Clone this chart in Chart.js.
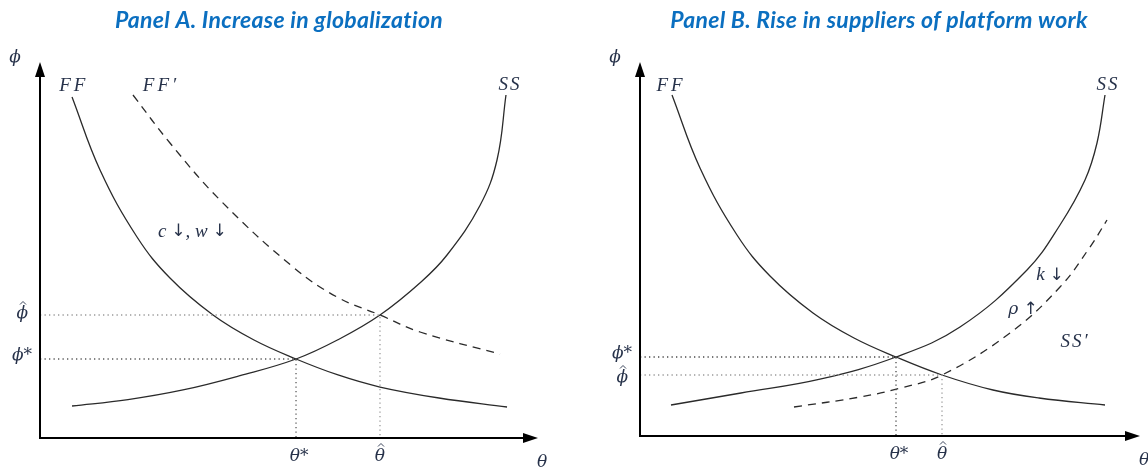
<!DOCTYPE html>
<html>
<head>
<meta charset="utf-8">
<script src="https://cdn.jsdelivr.net/npm/chart.js@4.4.1/dist/chart.umd.min.js"></script>
<style>
  body { margin: 0; background: #fff; width: 1148px; height: 468px; overflow: hidden; position: relative; }
  canvas { position: absolute; top: 0; }
  #panelA { left: 0; }
  #panelB { left: 574px; }
</style>
</head>
<body>
<canvas id="panelA" width="574" height="468"></canvas>
<canvas id="panelB" width="574" height="468"></canvas>
<script>
// ---- Panel A: increase in globalization ----
const titleA = 'Panel A. Increase in globalization';
const ffA_theta  = [6.43, 12.05, 19.48, 26.10, 34.74, 42.97, 51.41, 59.84, 68.27, 80.12, 93.78];
const ffA_phi    = [90.69, 71.28, 53.46, 42.55, 32.71, 26.06, 21.01, 16.76, 13.56, 10.64, 8.24];
const ssA_theta  = [6.43, 17.67, 28.71, 40.16, 51.41, 59.84, 68.27, 76.51, 81.73, 88.35, 91.77, 93.57];
const ssA_phi    = [8.51, 10.21, 12.77, 16.57, 21.01, 26.14, 32.71, 41.49, 48.67, 61.84, 73.94, 91.22];
const ff2A_theta = [18.67, 26.10, 36.14, 50.80, 59.64, 68.27, 76.31, 92.37];
const ff2A_phi   = [91.22, 78.46, 63.30, 45.48, 37.50, 32.71, 28.19, 22.34];
const eqA_theta  = [51.41, 68.27];   // θ*, θ̂
const eqA_phi    = [21.01, 32.71];   // ϕ*, ϕ̂

// ---- Panel B: rise in suppliers of platform work ----
const titleB = 'Panel B. Rise in suppliers of platform work';
const ffB_theta  = [6.4, 12.0, 19.4, 26.0, 34.6, 42.8, 51.2, 60.4, 70.6, 79.8, 93.0];
const ffB_phi    = [91.18, 71.66, 53.74, 42.78, 32.89, 26.20, 21.12, 16.31, 12.30, 10.16, 8.29];
const ssB_theta  = [6.2, 20.2, 36.0, 51.2, 64.0, 77.4, 84.0, 89.0, 91.4, 93.0];
const ssB_phi    = [8.29, 11.50, 15.19, 21.12, 29.14, 44.39, 56.42, 68.45, 78.34, 91.18];
const ss2B_theta = [30.8, 44.0, 52.0, 60.4, 74.0, 84.0, 90.0, 93.4];
const ss2B_phi   = [7.75, 10.43, 12.78, 16.31, 27.54, 39.84, 50.53, 57.75];
const eqB_theta  = [51.2, 60.4];   // θ*, θ̂
const eqB_phi    = [21.12, 16.31]; // ϕ*, ϕ̂

const MATH_FONT = "'Liberation Serif', 'DejaVu Serif', serif";
const GREEK_FONT = "'DejaVu Serif', 'Liberation Serif', serif";
const LATIN = "italic 19px " + MATH_FONT;
const GREEK = "italic 17px " + GREEK_FONT;
const ARROW = "17px 'DejaVu Sans', sans-serif";
const INK = '#2a2a2a';
const LABEL_INK = '#27324a';

function zip(xs, ys) { return xs.map((x, i) => ({ x, y: ys[i] })); }

function curve(xs, ys, dash) {
  return {
    data: zip(xs, ys), showLine: true, pointRadius: 0,
    borderColor: INK, borderWidth: 1.3, borderDash: dash || [],
    tension: 0.4, fill: false
  };
}

// Dotted guide from the ϕ axis to an equilibrium, then down to the θ axis
function guide(theta, phi, color) {
  return {
    data: [{ x: 0, y: phi }, { x: theta, y: phi }, { x: theta, y: 0 }],
    showLine: true, pointRadius: 0, borderColor: color, borderWidth: 1.3,
    borderDash: [1.3, 3.2], tension: 0, fill: false
  };
}

function drawHat(ctx, x, y) {
  ctx.save();
  ctx.beginPath();
  ctx.moveTo(x - 3, y + 1.5);
  ctx.lineTo(x, y - 1.5);
  ctx.lineTo(x + 3, y + 1.5);
  ctx.strokeStyle = LABEL_INK;
  ctx.lineWidth = 0.9;
  ctx.stroke();
  ctx.restore();
}

// Draws a run of [text, font, letterSpacing] pieces centred (or aligned) at x
function rich(ctx, segs, x, y, align) {
  ctx.save();
  ctx.fillStyle = LABEL_INK;
  ctx.textBaseline = 'middle';
  ctx.textAlign = 'left';
  let total = 0;
  const widths = segs.map(([t, f, sp]) => {
    ctx.font = f; ctx.letterSpacing = sp || '0px';
    const w = ctx.measureText(t).width; total += w; return w;
  });
  let cx = align === 'right' ? x - total : align === 'left' ? x : x - total / 2;
  segs.forEach(([t, f, sp], i) => {
    ctx.font = f; ctx.letterSpacing = sp || '0px';
    ctx.fillText(t, cx, y);
    cx += widths[i];
  });
  ctx.restore();
}

// Axes with arrowheads, title, and math labels
const diagramDecor = {
  id: 'diagramDecor',
  afterDraw(chart, args, o) {
    const ctx = chart.ctx;
    const xs = chart.scales.x, ys = chart.scales.y;
    const x0 = xs.getPixelForValue(0), y0 = ys.getPixelForValue(0);
    const xEnd = xs.right, yEnd = ys.top;

    ctx.save();
    ctx.strokeStyle = '#000';
    ctx.fillStyle = '#000';
    ctx.lineWidth = 2;
    ctx.beginPath();
    ctx.moveTo(x0, y0); ctx.lineTo(x0, yEnd + 10);
    ctx.moveTo(x0 - 1, y0); ctx.lineTo(xEnd - 10, y0);
    ctx.stroke();
    ctx.beginPath();
    ctx.moveTo(x0, yEnd); ctx.lineTo(x0 - 5, yEnd + 15); ctx.lineTo(x0 + 5, yEnd + 15); ctx.closePath();
    ctx.fill();
    ctx.beginPath();
    ctx.moveTo(xEnd, y0); ctx.lineTo(xEnd - 15, y0 - 5); ctx.lineTo(xEnd - 15, y0 + 5); ctx.closePath();
    ctx.fill();
    ctx.restore();

    // Title
    ctx.save();
    ctx.font = "bold italic 23px Lato, 'Open Sans', sans-serif";
    ctx.letterSpacing = '0.3px';
    ctx.fillStyle = '#0B6FC0';
    ctx.textAlign = 'center';
    ctx.textBaseline = 'middle';
    ctx.fillText(o.title, o.titleX, 21);
    ctx.restore();

    // Axis names
    rich(ctx, [['ϕ', GREEK]], x0 - 25, yEnd - 4);
    rich(ctx, [['θ', GREEK]], xEnd + 4, y0 + 25);

    // Equilibrium labels on the axes
    const [tStar, tHat] = o.eqTheta, [pStar, pHat] = o.eqPhi;
    const pyS = ys.getPixelForValue(pStar), pyH = ys.getPixelForValue(pHat);
    rich(ctx, [['ϕ*', GREEK]], x0 - 8, pyS - 3, 'right');
    rich(ctx, [['ϕ', GREEK]], x0 - 12, pyH - 1 + o.hatPhiShift, 'right');
    drawHat(ctx, x0 - 17, pyH - 12 + o.hatPhiShift);
    const txS = xs.getPixelForValue(tStar), txH = xs.getPixelForValue(tHat);
    rich(ctx, [['θ*', GREEK]], txS + 3, y0 + 19);
    rich(ctx, [['θ', GREEK]], txH, y0 + 19);
    drawHat(ctx, txH + 1, y0 + 7);

    // Curve labels and shift annotations
    o.labels.forEach(l => {
      rich(ctx, l.segs, xs.getPixelForValue(l.x), ys.getPixelForValue(l.y));
    });
  }
};

function makeChart(id, datasets, decor, pad) {
  return new Chart(document.getElementById(id), {
    type: 'scatter',
    data: { datasets },
    options: {
      responsive: false, animation: false, devicePixelRatio: 1, events: [],
      layout: { padding: pad },
      scales: {
        x: { type: 'linear', min: 0, max: 100, display: false },
        y: { type: 'linear', min: 0, max: 100, display: false }
      },
      plugins: { legend: { display: false }, tooltip: { enabled: false }, diagramDecor: decor }
    },
    plugins: [diagramDecor]
  });
}

makeChart('panelA', [
  guide(eqA_theta[1], eqA_phi[1], '#9a9a9a'),
  guide(eqA_theta[0], eqA_phi[0], '#5a5a5a'),
  curve(ffA_theta, ffA_phi),
  curve(ssA_theta, ssA_phi),
  curve(ff2A_theta, ff2A_phi, [8, 6])
], {
  title: titleA, titleX: 279, eqTheta: eqA_theta, eqPhi: eqA_phi, hatPhiShift: 0,
  labels: [
    { x: 6.8, y: 93.6, segs: [['FF', LATIN, '3px']] },
    { x: 24.3, y: 93.6, segs: [['FF′', LATIN, '3px']] },
    { x: 94.4, y: 93.9, segs: [['SS', LATIN, '2px']] },
    { x: 30.6, y: 54.8, segs: [['c ', LATIN], ['↓', ARROW], [', w ', LATIN], ['↓', ARROW]] }
  ]
}, { left: 40, right: 36, top: 62, bottom: 30 });

makeChart('panelB', [
  guide(eqB_theta[1], eqB_phi[1], '#9a9a9a'),
  guide(eqB_theta[0], eqB_phi[0], '#4a4a4a'),
  curve(ffB_theta, ffB_phi),
  curve(ssB_theta, ssB_phi),
  curve(ss2B_theta, ss2B_phi, [8, 6])
], {
  title: titleB, titleX: 305, eqTheta: eqB_theta, eqPhi: eqB_phi, hatPhiShift: 4,
  labels: [
    { x: 6.2, y: 93.6, segs: [['FF', LATIN, '3px']] },
    { x: 93.6, y: 93.9, segs: [['SS', LATIN, '2px']] },
    { x: 82.0, y: 43.0, segs: [['k ', LATIN], ['↓', ARROW]] },
    { x: 76.6, y: 33.7, segs: [['ρ ', GREEK], ['↑', ARROW]] },
    { x: 87.0, y: 25.1, segs: [['SS′', LATIN, '2px']] }
  ]
}, { left: 66, right: 8, top: 62, bottom: 32 });
</script>
</body>
</html>
